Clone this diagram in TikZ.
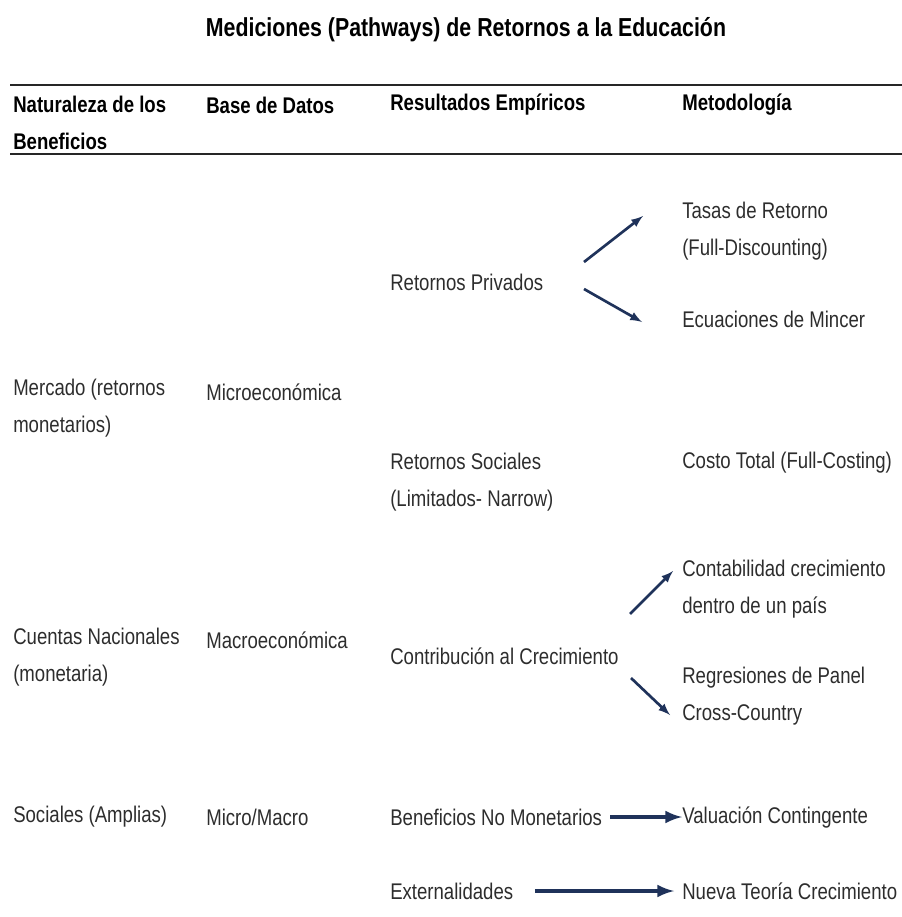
\documentclass[tikz,border=0pt]{standalone}
\usepackage{fontspec}
\setmainfont[FakeStretch=0.82]{Liberation Sans}
\usepackage{tikz}
\usetikzlibrary{calc, positioning, arrows}
\definecolor{navy}{RGB}{31,50,90}
\definecolor{txt}{RGB}{45,45,45}

\begin{document}
\begin{tikzpicture}[x=0.75pt,y=-0.75pt,
  cell/.style={anchor=west, inner sep=0pt, align=left, text=txt,
    font=\fontsize{17}{27.5}\selectfont},
  head/.style={cell, text=black, font=\fontsize{17}{27.5}\selectfont\bfseries},
  arr/.style={-latex, navy, line width=2pt},
  harr/.style={-latex, navy, line width=3.2pt, shorten <=6pt}]
\useasboundingbox (0,0) rectangle (902,917);
% titulo y encabezados
\node[head, anchor=center] (title) at (466,30) {\fontsize{19.5}{24}\selectfont Mediciones (Pathways) de Retornos a la Educación};
\draw[line width=2.2pt, black!85] (10,85) -- (902,85);
\draw[line width=2.2pt, black!85] (10,154) -- (902,154);
\node[head] (h1) at (13,123) {Naturaleza de los\\Beneficios};
\node[head] (h2) at (206,105) {Base de Datos};
\node[head] (h3) at (390,105) {Resultados Empíricos};
\node[head] (h4) at (682,105) {Metodología};
% primera columna
\node[cell] (merc) at (13,408) {Mercado (retornos\\monetarios)};
\node[cell] (cuen) at (13,657) {Cuentas Nacionales\\(monetaria)};
\node[cell] (soc) at (13,817) {Sociales (Amplias)};
% base de datos
\node[cell] (micro) at (206,392) {Microeconómica};
\node[cell] (macro) at (206,640) {Macroeconómica};
\node[cell] (mima) at (206,817) {Micro/Macro};
% resultados
\node[cell] (priv) at (390,282) {Retornos Privados};
\node[cell] (soci) at (390,482) {Retornos Sociales\\(Limitados- Narrow)};
\node[cell] (contrib) at (390,656) {Contribución al Crecimiento};
\node[cell] (benef) at (390,817) {Beneficios No Monetarios};
\node[cell] (ext) at (390,891) {Externalidades};
% metodologia
\node[cell] (tasas) at (682,231) {Tasas de Retorno\\(Full-Discounting)};
\node[cell] (mincer) at (682,319) {Ecuaciones de Mincer};
\node[cell] (costo) at (682,463) {Costo Total (Full-Costing)};
\node[cell] (contab) at (682,589) {Contabilidad crecimiento\\dentro de un país};
\node[cell] (regr) at (682,696) {Regresiones de Panel\\Cross-Country};
\node[cell] (valua) at (682,817) {Valuación Contingente};
\node[cell] (nueva) at (682,891) {Nueva Teoría Crecimiento};
% flechas
\draw[arr] ([shift={(194,-20)}]priv.west) -- ([shift={(-39,-15)}]tasas.west);
\draw[arr] ([shift={(194,7)}]priv.west) -- ([shift={(-40,3)}]mincer.west);
\draw[arr] ([shift={(240,-42)}]contrib.west) -- ([shift={(-9,-18)}]contab.west);
\draw[arr] ([shift={(241,22)}]contrib.west) -- ([shift={(-12,19)}]regr.west);
\draw[harr] (benef.east) -- (valua.west);
\draw[harr, shorten <=16pt] (ext.east) -- ([xshift=-6]nueva.west);
\end{tikzpicture}
\end{document}
